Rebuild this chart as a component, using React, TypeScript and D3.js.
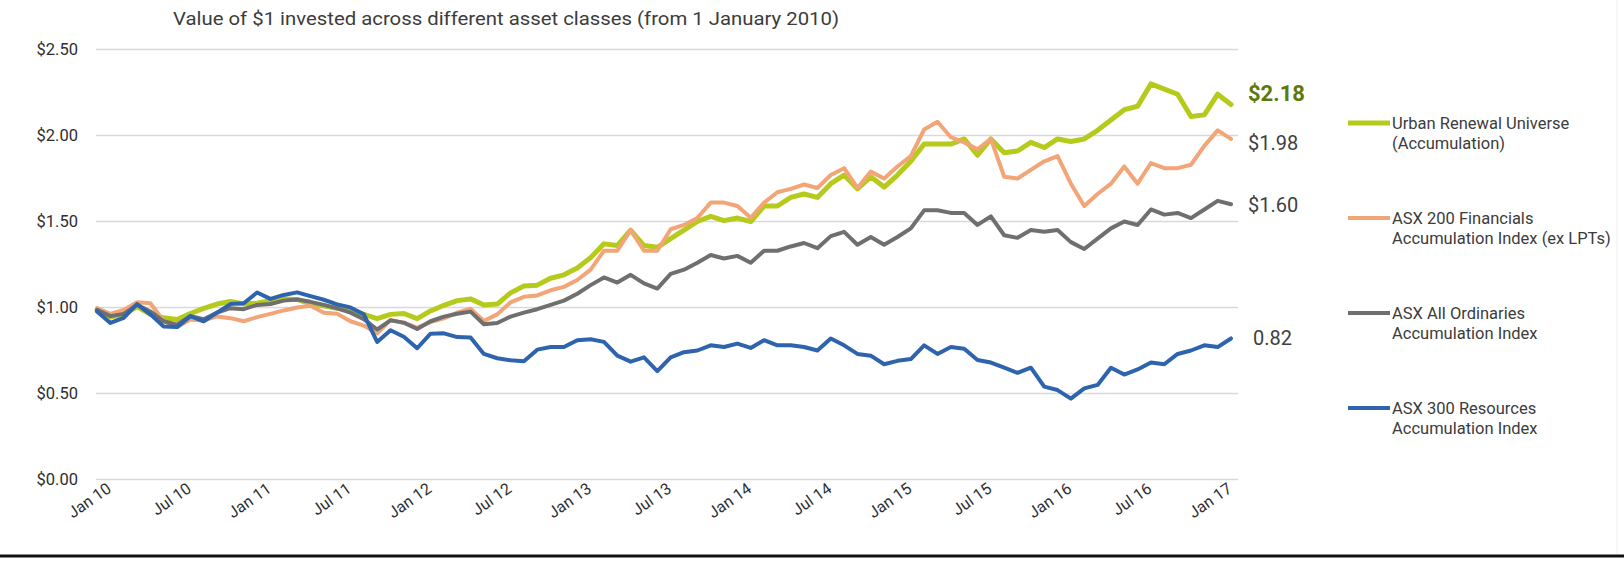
import React from "react";
import * as d3 from "d3";

// ---- data (monthly points, Jan 2010 .. Jan 2017) ----
const tickLabels = [
  "Jan 10", "Jul 10", "Jan 11", "Jul 11", "Jan 12", "Jul 12", "Jan 13", "Jul 13",
  "Jan 14", "Jul 14", "Jan 15", "Jul 15", "Jan 16", "Jul 16", "Jan 17",
];
const yTicks = [0, 0.5, 1, 1.5, 2, 2.5];

const urbanRenewal = [
  0.986, 0.944, 0.96, 1.005, 0.96, 0.94, 0.93, 0.965, 0.995, 1.02, 1.035, 1.02, 1.025,
  1.04, 1.05, 1.047, 1.022, 1.01, 0.996, 0.985, 0.96, 0.935, 0.96, 0.965, 0.935,
  0.98, 1.013, 1.04, 1.05, 1.015, 1.02, 1.085, 1.125, 1.13, 1.17, 1.19, 1.23,
  1.29, 1.37, 1.36, 1.45, 1.36, 1.35, 1.4, 1.45, 1.5, 1.53, 1.505, 1.52,
  1.5, 1.59, 1.59, 1.64, 1.66, 1.64, 1.72, 1.77, 1.69, 1.76, 1.7, 1.77,
  1.85, 1.95, 1.95, 1.95, 1.98, 1.885, 1.98, 1.9, 1.91, 1.96, 1.93, 1.98,
  1.965, 1.98, 2.03, 2.09, 2.15, 2.17, 2.3, 2.27, 2.24, 2.11, 2.12, 2.24, 2.18,
];
const financials = [
  0.996, 0.963, 0.986, 1.03, 1.025, 0.92, 0.886, 0.93, 0.925, 0.948, 0.938, 0.92, 0.944,
  0.963, 0.983, 1.0, 1.01, 0.97, 0.964, 0.92, 0.895, 0.85, 0.928, 0.91, 0.883,
  0.915, 0.937, 0.97, 0.993, 0.922, 0.96, 1.03, 1.062, 1.07, 1.1, 1.12, 1.16,
  1.22, 1.33, 1.33, 1.45, 1.33, 1.33, 1.455, 1.48, 1.52, 1.61, 1.61, 1.59,
  1.522, 1.61, 1.67, 1.69, 1.715, 1.695, 1.77, 1.81, 1.695, 1.79, 1.75, 1.82,
  1.88, 2.035, 2.08, 1.99, 1.96, 1.92, 1.98, 1.76, 1.75, 1.8, 1.85, 1.88,
  1.72, 1.59, 1.66, 1.72, 1.82, 1.72, 1.84, 1.81, 1.81, 1.83, 1.94, 2.03, 1.98,
];
const allOrdinaries = [
  0.986, 0.95, 0.963, 1.015, 0.977, 0.92, 0.9, 0.95, 0.932, 0.97, 0.996, 0.99, 1.015,
  1.02, 1.04, 1.047, 1.033, 1.015, 0.995, 0.97, 0.932, 0.872, 0.925, 0.912, 0.875,
  0.92, 0.947, 0.964, 0.976, 0.903, 0.91, 0.947, 0.97, 0.99, 1.015, 1.04, 1.08,
  1.13, 1.175, 1.145, 1.19, 1.14, 1.11, 1.195, 1.22, 1.26, 1.305, 1.285, 1.3,
  1.26, 1.33, 1.33, 1.355, 1.375, 1.345, 1.415, 1.44, 1.365, 1.41, 1.365, 1.41,
  1.46, 1.565, 1.565, 1.55, 1.55, 1.48, 1.53, 1.42, 1.405, 1.45, 1.44, 1.45,
  1.38, 1.34, 1.4, 1.46, 1.5, 1.48, 1.57, 1.54, 1.55, 1.52, 1.57, 1.62, 1.6,
];
const resources = [
  0.977, 0.91, 0.94, 1.02, 0.96, 0.89, 0.886, 0.95, 0.92, 0.97, 1.02, 1.025, 1.087,
  1.05, 1.073, 1.088, 1.066, 1.045, 1.018, 1.0, 0.96, 0.8, 0.868, 0.83, 0.763,
  0.848, 0.85, 0.828, 0.825, 0.73, 0.705, 0.693, 0.688, 0.755, 0.77, 0.77, 0.81,
  0.815, 0.8, 0.72, 0.685, 0.71, 0.63, 0.71, 0.74, 0.75, 0.78, 0.77, 0.79,
  0.765, 0.81, 0.78, 0.78, 0.77, 0.75, 0.82, 0.78, 0.73, 0.72, 0.67, 0.69,
  0.7, 0.78, 0.73, 0.77, 0.76, 0.695, 0.68, 0.65, 0.62, 0.65, 0.54, 0.52,
  0.47, 0.53, 0.55, 0.65, 0.61, 0.64, 0.68, 0.67, 0.73, 0.75, 0.78, 0.77, 0.82,
];

const seriesNames = [
  ["Urban Renewal Universe", "(Accumulation)"],
  ["ASX 200 Financials", "Accumulation Index (ex LPTs)"],
  ["ASX All Ordinaries", "Accumulation Index"],
  ["ASX 300 Resources", "Accumulation Index"],
];

const FONT = "Roboto, 'Liberation Sans', Arial, sans-serif";

export default function App() {
  const W = 1624;
  const H = 562;
  const nPts = urbanRenewal.length - 1;
  const x = d3.scaleLinear().domain([0, nPts]).range([97, 1231]);
  const y = d3.scaleLinear().domain([0, 2.5]).range([479.5, 49.5]);
  const gridX1 = 96;
  const gridX2 = 1238;

  const series = [
    { values: urbanRenewal, color: "#b5ca1a", width: 5, labelColor: "#5c7a0c", bold: true, prefix: "$", size: 22, dy: -11, dx: 0 },
    { values: financials, color: "#f2a577", width: 4, labelColor: "#3f3f3f", bold: false, prefix: "$", size: 20, dy: 4, dx: 0 },
    { values: allOrdinaries, color: "#6f6f6f", width: 4, labelColor: "#3f3f3f", bold: false, prefix: "$", size: 20, dy: 0, dx: 0 },
    { values: resources, color: "#2d64ad", width: 4, labelColor: "#3f3f3f", bold: false, prefix: "", size: 20, dy: -1, dx: 5 },
  ];

  const line = d3
    .line<number>()
    .x((_, i) => x(i))
    .y((d) => y(d));

  const legendY = [123, 218, 313, 408];

  return (
    <div style={{ position: "fixed", left: 0, top: 0 }}>
      <svg width={W} height={H} style={{ display: "block", background: "#fff" }} fontFamily={FONT}>
        <rect x={0} y={0} width={W} height={H} fill="#fff" />
        {/* title */}
        <text x={173} y={25} fontSize={17.5} fill="#3c3c3c" textLength={666} lengthAdjust="spacingAndGlyphs">
          Value of $1 invested across different asset classes (from 1 January 2010)
        </text>

        {/* gridlines + y labels */}
        {yTicks.map((t) => (
          <g key={t}>
            <line x1={gridX1} x2={gridX2} y1={y(t)} y2={y(t)} stroke="#d9d9d9" strokeWidth={1.6} />
            <text x={78} y={y(t)} dy="0.36em" textAnchor="end" fontSize={16.5} fill="#2e2e2e">
              {"$" + t.toFixed(2)}
            </text>
          </g>
        ))}

        {/* x labels */}
        {tickLabels.map((lab, i) => {
          const px = x(1 + i * 6) + 2;
          const py = 491;
          return (
            <text key={lab} x={px} y={py} textAnchor="end" fontSize={16} fill="#2e2e2e"
              transform={`rotate(-35 ${px} ${py})`}>
              {lab}
            </text>
          );
        })}

        {/* lines */}
        {series.map((s, i) => (
          <path key={i} d={line(s.values) || ""} fill="none" stroke={s.color} strokeWidth={s.width}
            strokeLinejoin="round" strokeLinecap="round" />
        ))}

        {/* end labels */}
        {series.map((s, i) => {
          const last = s.values[s.values.length - 1];
          return (
            <text key={i} x={1248 + s.dx} y={y(last) + s.dy} dy="0.36em" fontSize={s.size}
              fontWeight={s.bold ? 700 : 400} fill={s.labelColor}>
              {s.prefix + last.toFixed(2)}
            </text>
          );
        })}

        {/* legend */}
        {series.map((s, i) => (
          <g key={i}>
            <line x1={1348} x2={1390} y1={legendY[i]} y2={legendY[i]} stroke={s.color} strokeWidth={s.width} />
            <text x={1392} y={legendY[i]} dy="0.36em" fontSize={16.5} fill="#3c3c3c">
              {seriesNames[i][0]}
            </text>
            <text x={1392} y={legendY[i] + 20} dy="0.36em" fontSize={16.5} fill="#3c3c3c">
              {seriesNames[i][1]}
            </text>
          </g>
        ))}

        {/* frame bits */}
        <line x1={1617} x2={1617} y1={0} y2={554} stroke="#eeeeee" strokeWidth={1} />
        <line x1={0} x2={W} y1={556} y2={556} stroke="#111" strokeWidth={3} />
      </svg>
    </div>
  );
}
